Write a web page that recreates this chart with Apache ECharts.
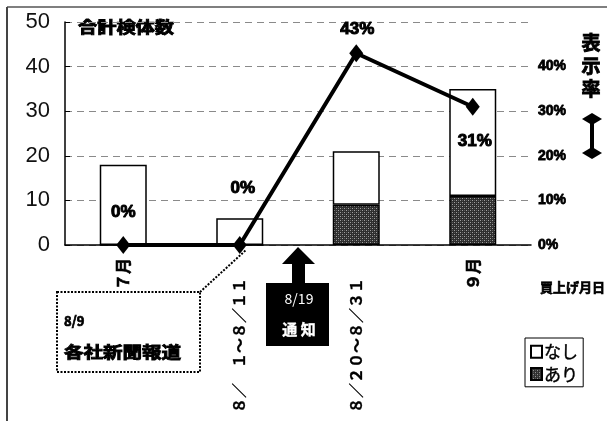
<!DOCTYPE html>
<html>
<head>
<meta charset="utf-8">
<script src="https://cdn.jsdelivr.net/npm/echarts@6/dist/echarts.min.js"></script>
<style>
  html, body { margin: 0; padding: 0; background: #fff; }
  #chart { width: 607px; height: 421px; }
</style>
</head>
<body>
<div id="chart"></div>
<script>
// Purchase period categories
const categories = ['７月', '８／\u3000１～８／１１', '８／２０～８／３１', '９月'];
// Sample counts without / with the label
const countNone = [18, 6, 12, 24];
const countWith = [0, 0, 9, 11];
// Display rate (%)
const displayRate = [0, 0, 43, 31];
// Axis ticks
const countTicks = [0, 10, 20, 30, 40, 50];
const rateTicks = [0, 10, 20, 30, 40];

// Where each rate label sits relative to its marker
const rateLabelOffset = [[0, -33], [3, -57], [1, -24], [2, 35]];

// Stippled fill for the "あり" segment
function stipple() {
  const c = document.createElement('canvas');
  c.width = 4; c.height = 4;
  const g = c.getContext('2d');
  g.fillStyle = '#2e2e2e';
  g.fillRect(0, 0, 4, 4);
  g.fillStyle = '#a0a0a0';
  g.fillRect(0, 0, 1, 1);
  g.fillRect(2, 2, 1, 1);
  g.fillStyle = '#5a5a5a';
  g.fillRect(2, 0, 1, 1);
  g.fillRect(0, 2, 1, 1);
  return c;
}
const withFill = { image: stipple(), repeat: 'repeat' };

const JP = '"Noto Sans CJK JP", sans-serif';
const LAT = '"Liberation Sans", Arial, sans-serif';

// heavy black text helper for the overlay notes
function heavy(extra) {
  return Object.assign({ fill: '#000', stroke: '#000', lineWidth: 0.9, fontFamily: JP, fontWeight: 'bold',
    textAlign: 'left', textVerticalAlign: 'middle' }, extra);
}

const chart = echarts.init(document.getElementById('chart'), null, { renderer: 'canvas' });

chart.setOption({
  animation: false,
  backgroundColor: '#fff',
  grid: { left: 65, right: 76, top: 22, bottom: 176 },
  legend: {
    data: ['なし', 'あり'],
    orient: 'vertical',
    left: 525, top: 338,
    padding: [5, 5, 4, 5],
    itemGap: 5,
    itemWidth: 11, itemHeight: 12,
    borderColor: '#000', borderWidth: 1,
    textStyle: { fontFamily: JP, fontSize: 17, color: '#000', padding: [0, 0, 0, -3],
      textBorderColor: '#000', textBorderWidth: 0.4 },
    icon: 'rect'
  },
  xAxis: {
    type: 'category',
    data: categories,
    boundaryGap: true,
    axisLine: { lineStyle: { color: '#000', width: 1.5 } },
    axisTick: { inside: true, length: 8, lineStyle: { color: '#000', width: 1 } },
    axisLabel: {
      rotate: 90,
      margin: 13,
      interval: 0,
      color: '#000',
      fontFamily: JP,
      fontSize: 15,
      fontWeight: 'bold',
      formatter: function (v) {
        return v.length > 3 ? '{d|' + v + '}' : '{m|' + v + '}';
      },
      rich: {
        m: { fontFamily: JP, fontSize: 16, fontWeight: 'bold', color: '#000', textBorderColor: '#000', textBorderWidth: 0.6 },
        d: { fontFamily: JP, fontSize: 15, fontWeight: 'bold', color: '#000', textBorderColor: '#000', textBorderWidth: 0.3, padding: [0, 20, 0, 0] }
      }
    }
  },
  yAxis: [
    {
      type: 'value',
      min: countTicks[0], max: countTicks[countTicks.length - 1], interval: 10,
      axisLine: { show: true, lineStyle: { color: '#000', width: 1.5 } },
      axisTick: { show: true, inside: true, length: 5, lineStyle: { color: '#000' } },
      axisLabel: { margin: 15, color: '#111', fontFamily: LAT, fontSize: 22 },
      splitLine: { show: true, lineStyle: { color: '#8a8a8a', type: [7, 5], width: 1 } }
    },
    {
      type: 'value',
      position: 'right',
      min: 0, max: 50, interval: 10,
      axisLine: { show: false },
      axisTick: { show: false },
      splitLine: { show: false },
      axisLabel: {
        margin: 7,
        color: '#000',
        fontFamily: LAT,
        fontSize: 14,
        fontWeight: 'bold',
        textBorderColor: '#000',
        textBorderWidth: 0.8,
        padding: [10, 0, 0, 0],
        formatter: function (v) { return rateTicks.indexOf(v) >= 0 ? v + '%' : ''; }
      }
    }
  ],
  series: [
    {
      name: 'あり',
      type: 'bar',
      stack: 'count',
      barWidth: 47,
      data: countWith,
      itemStyle: { color: withFill, borderColor: '#000', borderWidth: 1.5 }
    },
    {
      name: 'なし',
      type: 'bar',
      stack: 'count',
      barWidth: 47,
      data: countNone,
      itemStyle: { color: '#fff', borderColor: '#000', borderWidth: 1.5 }
    },
    {
      name: '表示率',
      type: 'line',
      yAxisIndex: 1,
      z: 5,
      data: displayRate.map(function (v, i) {
        return {
          value: v,
          label: { offset: rateLabelOffset[i] }
        };
      }),
      lineStyle: { color: '#000', width: 4 },
      itemStyle: { color: '#000' },
      symbol: 'diamond',
      symbolSize: [14, 18],
      label: {
        show: true,
        position: 'inside',
        color: '#000',
        fontFamily: LAT,
        fontSize: 17,
        fontWeight: 'bold',
        textBorderColor: '#000',
        textBorderWidth: 1,
        formatter: '{c}%'
      }
    }
  ],
  graphic: [
    // frame
    { type: 'line', shape: { x1: 7, y1: 7, x2: 607, y2: 7 }, style: { stroke: '#555', lineWidth: 1.5 } },
    { type: 'line', shape: { x1: 7, y1: 7, x2: 7, y2: 421 }, style: { stroke: '#444', lineWidth: 2 } },
    // axis titles
    { type: 'text', x: 78, y: 27, scaleX: 1.2, style: heavy({ text: '合計検体数', fontSize: 16 }) },
    { type: 'text', x: 591, y: 66,
      style: heavy({ text: '表\n示\n率', fontSize: 19, lineHeight: 23, textAlign: 'center' }) },
    { type: 'text', x: 540, y: 287, style: heavy({ text: '買上げ月日', fontSize: 13, lineWidth: 0.7 }) },
    // double-headed marker beside the rate axis
    { type: 'line', shape: { x1: 592, y1: 119, x2: 592, y2: 153 }, style: { stroke: '#000', lineWidth: 4 } },
    { type: 'polygon', shape: { points: [[582, 119], [592, 113], [602, 119], [592, 125]] }, style: { fill: '#000' } },
    { type: 'polygon', shape: { points: [[582, 153], [592, 147], [602, 153], [592, 159]] }, style: { fill: '#000' } },
    // 8/9 press note
    { type: 'rect', shape: { x: 57, y: 292, width: 143, height: 80 }, style: { fill: '#fff', stroke: '#000', lineWidth: 2, lineDash: [2, 1.5] } },
    { type: 'line', shape: { x1: 200, y1: 292, x2: 246, y2: 250 }, style: { stroke: '#000', lineWidth: 2, lineDash: [2, 1.5] } },
    { type: 'text', x: 64, y: 321, style: heavy({ text: '8/9', fontSize: 13, lineWidth: 0.7 }) },
    { type: 'text', x: 64, y: 352, scaleX: 1.22, style: heavy({ text: '各社新聞報道', fontSize: 16 }) },
    // 8/19 notice callout
    { type: 'polygon', shape: { points: [[298, 247], [315, 264], [305, 264], [305, 285], [292, 285], [292, 264], [282, 264]] }, style: { fill: '#000' } },
    { type: 'rect', shape: { x: 266, y: 283, width: 63, height: 63 }, style: { fill: '#000' } },
    { type: 'text', x: 299, y: 299,
      style: { text: '8/19', fontFamily: JP, fontSize: 14, fill: '#fff', textAlign: 'center', textVerticalAlign: 'middle' } },
    { type: 'text', x: 299, y: 329,
      style: { text: '通 知', fontFamily: JP, fontSize: 15, fontWeight: 'bold', fill: '#fff', stroke: '#fff', lineWidth: 0.4, textAlign: 'center', textVerticalAlign: 'middle' } }
  ]
});
</script>
</body>
</html>
